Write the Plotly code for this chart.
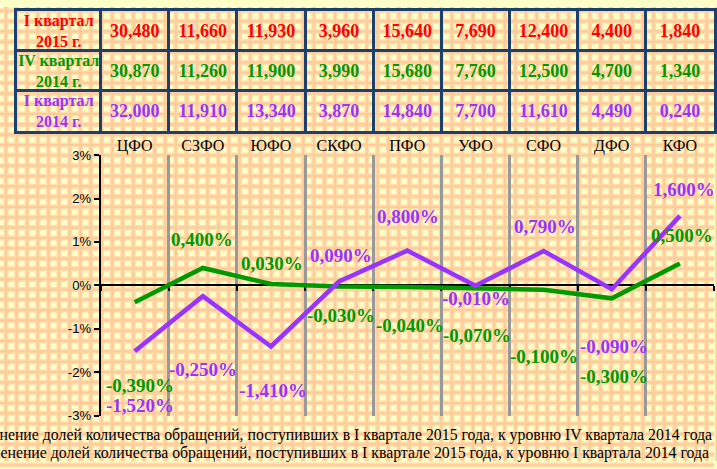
import plotly.graph_objects as go

# ---------------- data ----------------
regions = ["ЦФО", "СЗФО", "ЮФО", "СКФО", "ПФО", "УФО", "СФО", "ДФО", "КФО"]
row_labels = ["I квартал<br>2015 г.", "IV квартал<br>2014 г.", "I квартал<br>2014 г."]
q1_2015 = [30.480, 11.660, 11.930, 3.960, 15.640, 7.690, 12.400, 4.400, 1.840]
q4_2014 = [30.870, 11.260, 11.900, 3.990, 15.680, 7.760, 12.500, 4.700, 1.340]
q1_2014 = [32.000, 11.910, 13.340, 3.870, 14.840, 7.700, 11.610, 4.490, 0.240]
chg_vs_q4_2014 = [-0.390, 0.400, 0.030, -0.030, -0.040, -0.070, -0.100, -0.300, 0.500]
chg_vs_q1_2014 = [-1.520, -0.250, -1.410, 0.090, 0.800, -0.010, 0.790, -0.090, 1.600]
legend_texts = [
    "Изменение долей количества обращений, поступивших в I квартале 2015 года, к уровню IV квартала 2014 года",
    "Изменение долей количества обращений, поступивших в I квартале 2015 года, к уровню I квартала 2014 года",
]
y_ticks = [-3, -2, -1, 0, 1, 2, 3]

# ---------------- style ----------------
W, H = 717, 469
RED, GREEN, PURPLE = "#FF0000", "#009900", "#9933FF"
NAVY = "#1B3F6E"
SERIF, SANS = "Liberation Serif", "Liberation Sans"

# label offsets (pixels) relative to the data point: (xshift, yshift)
green_off = [(5, -83), (-1, 28), (1, 21), (2, -29), (3, -38), (2, -47), (0, -67), (2, -78), (2, 28)]
purple_off = [(5, -54), (0, -73), (2, -44), (2, 26), (1, 34), (1, -13), (1, 25), (2, -57), (4, 26)]


def fmt(v, pct=False):
    s = f"{v:.3f}".replace(".", ",")
    return s + ("%" if pct else "")


def px_x(p):
    return p / W


def px_y(p):
    return 1 - p / H


n = len(regions)
idx = list(range(n))
bounds = [i - 0.5 for i in range(n + 1)]

chart_xdom = [px_x(101), 1.0]
chart_ydom = [px_y(422), px_y(153)]
label_w = 84 / ((717 - 101) / n)  # width of the row-label column in category units
label_center = -0.5 - label_w / 2

fig = go.Figure()

# --- chart lines ---
fig.add_trace(go.Scatter(x=idx, y=chg_vs_q4_2014, mode="lines",
                         line=dict(color=GREEN, width=4.5), xaxis="x", yaxis="y",
                         hoverinfo="skip"))
fig.add_trace(go.Scatter(x=idx, y=chg_vs_q1_2014, mode="lines",
                         line=dict(color=PURPLE, width=4.5), xaxis="x", yaxis="y",
                         hoverinfo="skip"))
# invisible trace on top axis for category labels
fig.add_trace(go.Scatter(x=idx, y=[0] * n, mode="markers", marker=dict(opacity=0),
                         xaxis="x2", yaxis="y", hoverinfo="skip"))

# --- table (text through a dedicated pair of axes) ---
rows = [q1_2015, q4_2014, q1_2014]
row_colors = [RED, GREEN, PURPLE]
for r, (vals, col, lab) in enumerate(zip(rows, row_colors, row_labels)):
    fig.add_trace(go.Scatter(
        x=[label_center] + idx,
        y=[r + 0.55] * (n + 1),
        mode="text",
        text=[lab] + [fmt(v) for v in vals],
        textposition="middle center",
        textfont=dict(family=SERIF, color=col, size=[16] + [18] * n, weight="bold"),
        xaxis="x3", yaxis="y3", hoverinfo="skip"))

# --- data labels ---
annotations = []
for series, col, offs in [(chg_vs_q4_2014, GREEN, green_off), (chg_vs_q1_2014, PURPLE, purple_off)]:
    for i, v in enumerate(series):
        annotations.append(dict(
            x=i, y=v, xref="x", yref="y", text=fmt(v, True), showarrow=False,
            xshift=offs[i][0], yshift=offs[i][1], xanchor="center", yanchor="middle",
            font=dict(family=SERIF, size=19, color=col, weight="bold")))

# --- legend texts (cut off at left like the reference) ---
for txt, xr, yc in zip(legend_texts, [717, 714], [442, 461]):
    annotations.append(dict(
        x=px_x(xr), y=px_y(yc), xref="paper", yref="paper", text=txt, showarrow=False,
        xanchor="right", yanchor="middle", font=dict(family=SERIF, size=15.8, color="black")))

# --- background pattern ---
shapes = []
period = 10.66


def grid_lines(color, width):
    out = []
    k = 0
    while 6 + k * period < W + 5:
        xp = px_x(6 + k * period)
        out.append(dict(type="line", xref="paper", yref="paper", x0=xp, x1=xp, y0=0, y1=1,
                        line=dict(color=color, width=width), layer="below"))
        k += 1
    k = 0
    while 4 + k * period < H + 5:
        yp = px_y(4 + k * period)
        out.append(dict(type="line", xref="paper", yref="paper", x0=0, x1=1, y0=yp, y1=yp,
                        line=dict(color=color, width=width), layer="below"))
        k += 1
    return out


shapes += grid_lines("#FFDDAE", 5)
shapes += grid_lines("#FFCC99", 2)

zero_pos = chart_ydom[0] + (0 - y_ticks[0]) / (y_ticks[-1] - y_ticks[0]) * (chart_ydom[1] - chart_ydom[0])

fig.update_layout(
    width=W, height=H,
    margin=dict(l=0, r=0, t=0, b=0, pad=0),
    paper_bgcolor="#FFFFC8",
    plot_bgcolor="rgba(0,0,0,0)",
    showlegend=False,
    annotations=annotations,
    shapes=shapes,
    xaxis=dict(domain=chart_xdom, range=[-0.5, n - 0.5], anchor="free", position=zero_pos,
               tickmode="array", tickvals=bounds, showticklabels=False,
               ticks="outside", ticklen=5, tickwidth=2, tickcolor="black",
               showgrid=True, gridcolor="#999999", gridwidth=2.5,
               showline=True, linecolor="black", linewidth=2, zeroline=False,
               layer="below traces", fixedrange=True),
    xaxis2=dict(domain=chart_xdom, range=[-0.5, n - 0.5], overlaying="x", anchor="y", side="top",
                tickmode="array", tickvals=idx, ticktext=regions, ticks="",
                showgrid=False, showline=False, zeroline=False,
                tickfont=dict(family=SERIF, size=16, color="black"), fixedrange=True),
    yaxis=dict(domain=chart_ydom, range=[y_ticks[0], y_ticks[-1]], anchor="x",
               tickmode="array", tickvals=y_ticks, ticktext=[f"{t}%" for t in y_ticks],
               ticks="outside", ticklen=5, tickwidth=2, tickcolor="black",
               showline=True, linecolor="black", linewidth=2, showgrid=False, zeroline=False,
               tickfont=dict(family=SANS, size=13, color="black"), fixedrange=True),
    xaxis3=dict(domain=[px_x(17), 1.0], range=[-0.5 - label_w, n - 0.5], anchor="y3",
                tickmode="array", tickvals=bounds[:-1], showticklabels=False, ticks="",
                showgrid=True, gridcolor=NAVY, gridwidth=3,
                showline=True, mirror=True, linecolor=NAVY, linewidth=3, zeroline=False,
                fixedrange=True),
    yaxis3=dict(domain=[px_y(128), px_y(4)], range=[3, 0], anchor="x3",
                tickmode="array", tickvals=[1, 2], showticklabels=False, ticks="",
                showgrid=True, gridcolor=NAVY, gridwidth=3,
                showline=True, mirror=True, linecolor=NAVY, linewidth=3, zeroline=False,
                fixedrange=True),
)

fig.write_html(
    "out.html",
    config={"displayModeBar": False},
    post_script=(
        "var gd=document.getElementById('{plot_id}');"
        "gd.style.position='fixed';gd.style.left='0px';gd.style.top='0px';"
        "document.body.style.margin='0';document.body.style.overflow='hidden';"
        "document.documentElement.style.overflow='hidden';"
    ),
)
